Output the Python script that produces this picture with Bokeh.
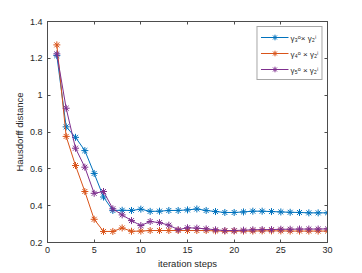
from bokeh.plotting import figure
from bokeh.models import (LinearAxis, Range1d, FixedTicker, Legend, LegendItem,
                          CustomJSTickFormatter)
from bokeh.embed import file_html
from bokeh.resources import INLINE

steps = list(range(1, 31))
gamma3 = [1.215, 0.828, 0.771, 0.699, 0.575, 0.447, 0.374, 0.375, 0.374, 0.381,
          0.369, 0.370, 0.374, 0.374, 0.377, 0.382, 0.374, 0.368, 0.363, 0.363,
          0.366, 0.370, 0.370, 0.368, 0.366, 0.364, 0.363, 0.361, 0.361, 0.361]
gamma4 = [1.273, 0.776, 0.618, 0.477, 0.326, 0.260, 0.260, 0.279, 0.261, 0.262,
          0.265, 0.265, 0.265, 0.265, 0.265, 0.265, 0.265, 0.263, 0.262, 0.262,
          0.262, 0.262, 0.263, 0.263, 0.263, 0.262, 0.262, 0.262, 0.262, 0.262]
gamma5 = [1.224, 0.929, 0.712, 0.609, 0.467, 0.477, 0.383, 0.350, 0.319, 0.292,
          0.314, 0.308, 0.294, 0.270, 0.280, 0.278, 0.274, 0.269, 0.265, 0.265,
          0.267, 0.269, 0.270, 0.270, 0.272, 0.272, 0.273, 0.273, 0.273, 0.274]
series = [gamma3, gamma4, gamma5]
labels = ["γ₃ᵒ× γ₂ⁱ", "γ₄ᵒ × γ₂ⁱ", "γ₅ᵒ × γ₂ⁱ"]
colors = ["#0072BD", "#D95319", "#7E2F8E"]
x_ticks = [0, 5, 10, 15, 20, 25, 30]
y_ticks = [0.2, 0.4, 0.6, 0.8, 1.0, 1.2, 1.4]

FONT = "Liberation Sans"
DARK = "#262626"
AXC = "#4d4d4d"

p = figure(width=362, height=273, x_range=Range1d(0, 30), y_range=Range1d(0.2, 1.4),
           output_backend="svg", toolbar_location=None,
           min_border_left=47, min_border_top=21, min_border_right=35, min_border_bottom=31,
           x_axis_label="iteration steps", y_axis_label="Hausdorff distance")
p.grid.visible = False
p.outline_line_color = AXC
p.outline_line_width = 1

p.xaxis.ticker = FixedTicker(ticks=x_ticks)
p.yaxis.ticker = FixedTicker(ticks=y_ticks)
p.yaxis.formatter = CustomJSTickFormatter(code="return String(Math.round(tick*10)/10);")
for ax in p.xaxis + p.yaxis:
    ax.major_tick_in = 3
    ax.major_tick_out = 0
    ax.minor_tick_line_color = None
    ax.axis_line_color = AXC
    ax.major_tick_line_color = AXC
    ax.major_label_text_font = FONT
    ax.major_label_text_font_size = "9px"
    ax.major_label_text_color = DARK
    ax.axis_label_text_font = FONT
    ax.axis_label_text_font_size = "9.5px"
    ax.axis_label_text_font_style = "normal"
    ax.axis_label_text_color = DARK
p.xaxis.major_label_standoff = 4
p.xaxis.axis_label_standoff = 2
p.yaxis.major_label_standoff = 5
p.yaxis.axis_label_standoff = 2

blank = CustomJSTickFormatter(code="return '';")
top = LinearAxis(ticker=FixedTicker(ticks=x_ticks), formatter=blank,
                 major_tick_in=3, major_tick_out=0, minor_tick_line_color=None,
                 major_label_standoff=0, axis_line_color=AXC, major_tick_line_color=AXC)
right = LinearAxis(ticker=FixedTicker(ticks=y_ticks), formatter=blank,
                   major_tick_in=3, major_tick_out=0, minor_tick_line_color=None,
                   major_label_standoff=0, axis_line_color=AXC, major_tick_line_color=AXC)
p.add_layout(top, "above")
p.add_layout(right, "right")

items = []
for ys, lab, c in zip(series, labels, colors):
    ln = p.line(steps, ys, line_color=c, line_width=1)
    sc = p.scatter(steps, ys, marker="asterisk", size=7, line_color=c, line_width=1)
    items.append(LegendItem(label=lab, renderers=[ln, sc]))

legend = Legend(items=items, location="top_right", margin=5, padding=3, spacing=2,
                glyph_width=28, glyph_height=14, label_standoff=2,
                label_text_font=FONT, label_text_font_size="8px", label_text_color=DARK,
                border_line_color=AXC, border_line_width=1, background_fill_color="white")
p.add_layout(legend)

open("out.html", "w").write(file_html(p, INLINE))
